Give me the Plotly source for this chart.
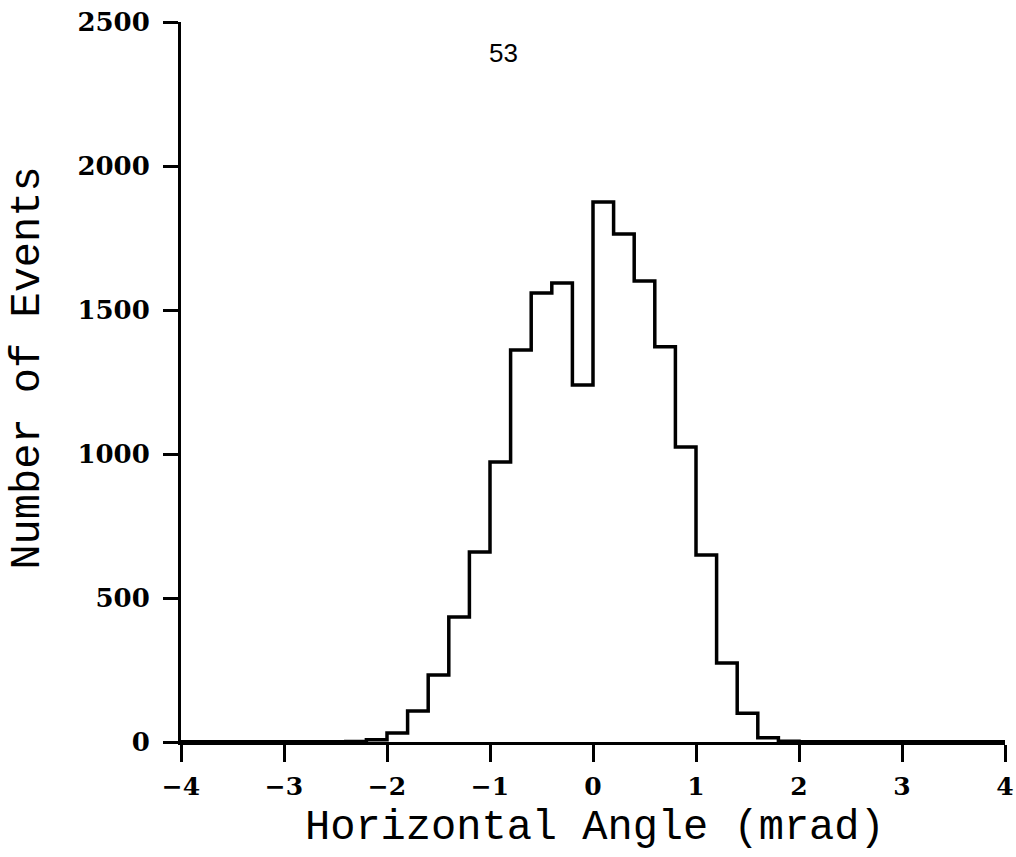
import plotly.graph_objects as go

# Histogram: horizontal angle (mrad), bin width 0.2 from -4 to 4
bin_edges = [round(-4.0 + 0.2 * i, 1) for i in range(41)]
# counts per bin, first bin [-4.0,-3.8], index 10 -> [-2.0,-1.8]
counts = [
    1, 1, 1, 1, 1, 1, 1, 1, 2, 8,
    31, 108, 233, 434, 660, 972, 1361, 1559, 1594, 1240,
    1875, 1764, 1601, 1372, 1024, 649, 274, 100, 15, 3,
    1, 1, 1, 1, 1, 1, 1, 1, 1, 1,
]

x_ticks = [-4, -3, -2, -1, 0, 1, 2, 3, 4]
x_tick_labels = ["−4", "−3", "−2", "−1", "0", "1", "2", "3", "4"]
y_ticks = [0, 500, 1000, 1500, 2000, 2500]

step_x = bin_edges
step_y = counts + [counts[-1]]

fig = go.Figure()
fig.add_trace(go.Scatter(
    x=step_x, y=step_y, mode="lines",
    line=dict(shape="hv", color="black", width=3.5),
    hoverinfo="skip", showlegend=False,
))

y_tick_font = dict(family="DejaVu Serif", size=26, color="black", weight="bold")
x_tick_font = dict(family="DejaVu Serif", size=25, color="black", weight="bold")
title_font = dict(family="Liberation Mono", size=42, color="black")

fig.update_layout(
    width=1016, height=857,
    margin=dict(l=181, r=11, t=22, b=115),
    paper_bgcolor="white", plot_bgcolor="white",
    showlegend=False,
    xaxis=dict(
        range=[-4, 4], tickvals=x_ticks, ticktext=x_tick_labels, automargin=False,
        showgrid=False, zeroline=False, showline=True, linecolor="black", linewidth=3,
        ticks="outside", ticklen=17, tickwidth=3, tickcolor="black",
        tickfont=x_tick_font, ticklabelstandoff=3,
    ),
    yaxis=dict(
        range=[0, 2500], tickvals=y_ticks, automargin=False,
        showgrid=False, zeroline=False, showline=True, linecolor="black", linewidth=3,
        ticks="outside", ticklen=15, tickwidth=3, tickcolor="black",
        tickfont=y_tick_font, ticklabelstandoff=8,
    ),
    annotations=[
        dict(text="Horizontal Angle (mrad)", xref="paper", yref="paper",
             x=0.5024, y=-0.119, xanchor="center", yanchor="middle",
             showarrow=False, font=title_font),
        dict(text="Number of Events", xref="paper", yref="paper",
             x=-0.1857, y=0.52, xanchor="center", yanchor="middle",
             textangle=-90, showarrow=False, font=title_font),
        dict(text="53", xref="paper", yref="paper",
             x=(503 - 181) / 824, y=(742 - 53) / 720, xanchor="center", yanchor="middle",
             showarrow=False, font=dict(family="Liberation Sans", size=26, color="black")),
    ],
)

fig.write_html("out.html", config={"displayModeBar": False},
               post_script="document.body.style.margin='0px';")
